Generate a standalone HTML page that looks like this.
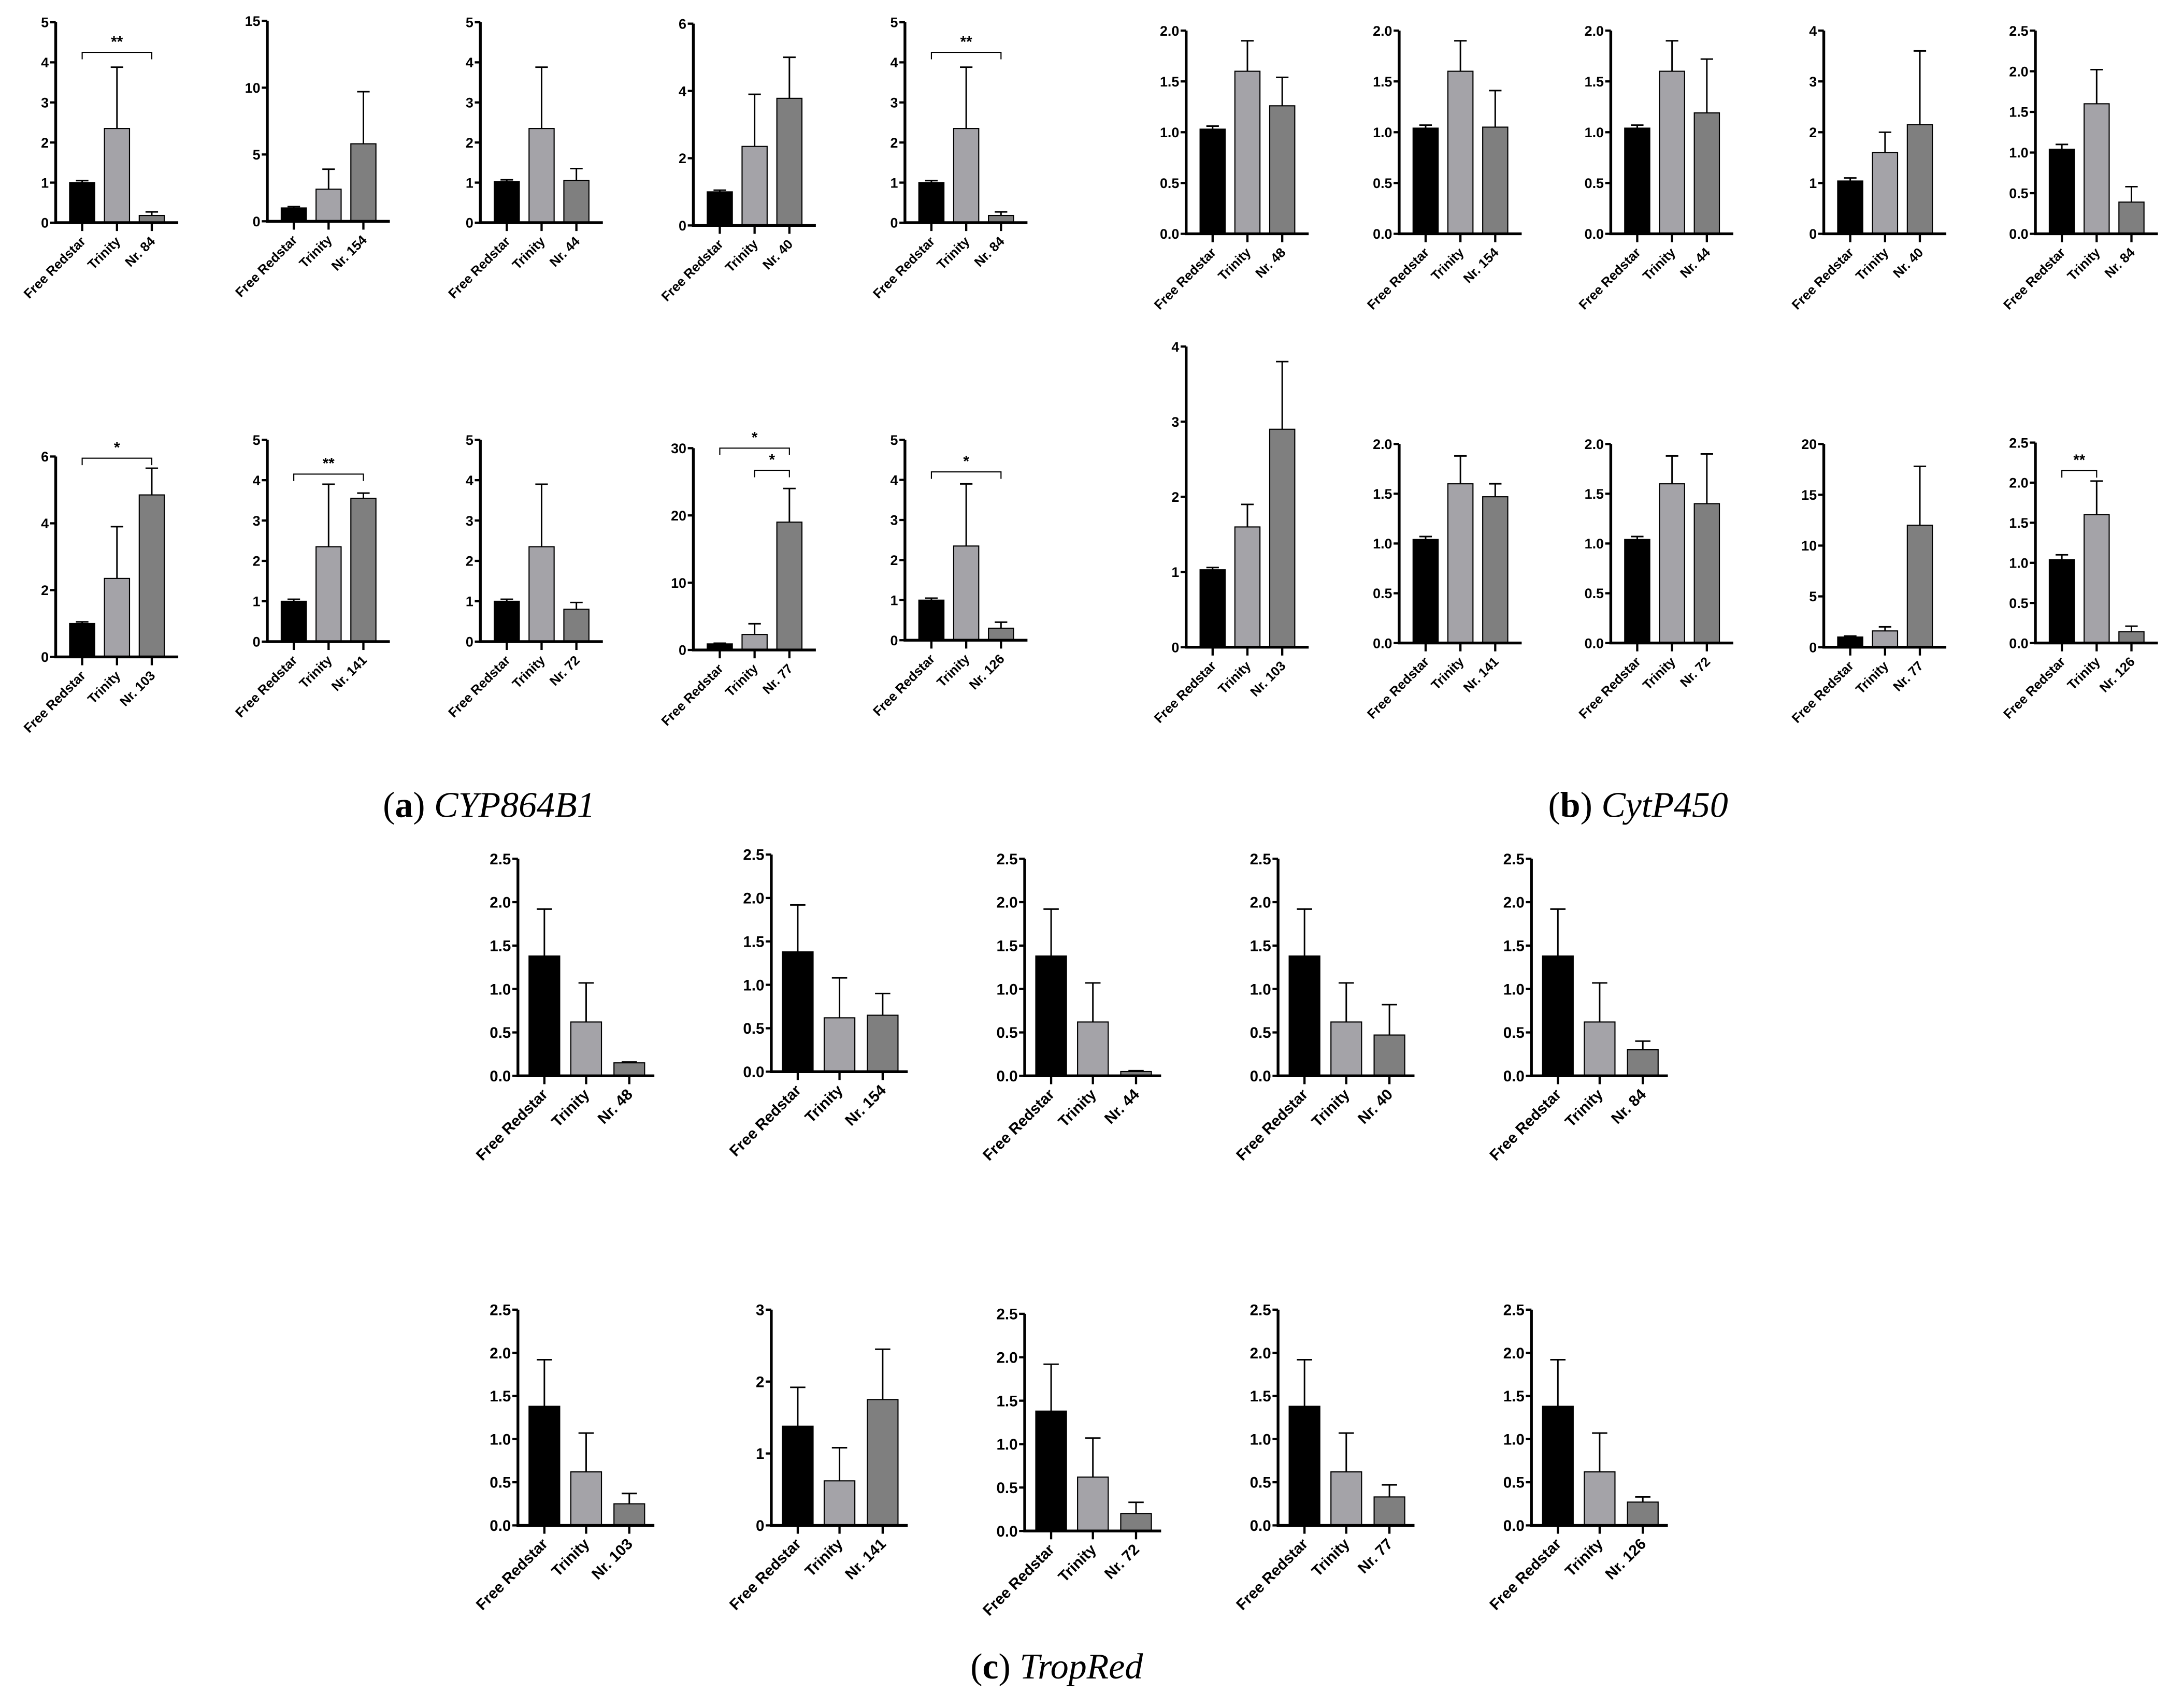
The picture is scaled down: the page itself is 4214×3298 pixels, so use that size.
<!DOCTYPE html>
<html><head><meta charset="utf-8"><style>
html,body{margin:0;padding:0;background:#fff;}
svg{display:block;}
.t{font-family:"Liberation Sans",Arial,sans-serif;font-weight:bold;}
.cap{font-family:"Liberation Serif",serif;font-size:26px;}
</style></head><body>
<svg id="fig" width="4214" height="3298" viewBox="0 0 1568 1227.2" xmlns="http://www.w3.org/2000/svg">
<rect width="1568" height="1227.2" fill="#fff"/>
<text class="cap" x="275" y="587">(<tspan font-weight="bold">a</tspan>) <tspan font-style="italic">CYP864B1</tspan></text>
<text class="cap" x="1112" y="587">(<tspan font-weight="bold">b</tspan>) <tspan font-style="italic">CytP450</tspan></text>
<text class="cap" x="697" y="1206">(<tspan font-weight="bold">c</tspan>) <tspan font-style="italic">TropRed</tspan></text>
</svg>
<script>
// Data arrays
const panelIds = ["a1","a2","a3","a4","a5","a6","a7","a8","a9","a10",
  "b1","b2","b3","b4","b5","b6","b7","b8","b9","b10",
  "c1","c2","c3","c4","c5","c6","c7","c8","c9","c10"];
const thirdLabels = ["Nr. 84","Nr. 154","Nr. 44","Nr. 40","Nr. 84","Nr. 103","Nr. 141","Nr. 72","Nr. 77","Nr. 126",
  "Nr. 48","Nr. 154","Nr. 44","Nr. 40","Nr. 84","Nr. 103","Nr. 141","Nr. 72","Nr. 77","Nr. 126",
  "Nr. 48","Nr. 154","Nr. 44","Nr. 40","Nr. 84","Nr. 103","Nr. 141","Nr. 72","Nr. 77","Nr. 126"];
const means = [
  [1.0,2.35,0.18],[1.0,2.4,5.8],[1.02,2.35,1.05],[1.0,2.35,3.78],[1.0,2.35,0.18],
  [1.0,2.35,4.85],[1.0,2.35,3.55],[1.0,2.35,0.8],[0.9,2.3,19],[1.0,2.35,0.3],
  [1.03,1.6,1.26],[1.04,1.6,1.05],[1.04,1.6,1.19],[1.04,1.6,2.15],[1.04,1.6,0.39],
  [1.03,1.6,2.9],[1.04,1.6,1.47],[1.04,1.6,1.4],[1.0,1.6,12],[1.04,1.6,0.14],
  [1.38,0.62,0.15],[1.38,0.62,0.65],[1.38,0.62,0.05],[1.38,0.62,0.47],[1.38,0.62,0.3],
  [1.38,0.62,0.25],[1.38,0.62,1.75],[1.38,0.62,0.2],[1.38,0.62,0.33],[1.38,0.62,0.27]];
const errTops = [
  [1.05,3.88,0.27],[1.1,3.9,9.7],[1.07,3.88,1.35],[1.05,3.9,5.0],[1.05,3.88,0.27],
  [1.05,3.9,5.65],[1.05,3.9,3.68],[1.05,3.9,0.97],[1.0,3.9,24],[1.05,3.9,0.45],
  [1.06,1.9,1.54],[1.07,1.9,1.41],[1.07,1.9,1.72],[1.1,2.0,3.6],[1.1,2.02,0.58],
  [1.06,1.9,3.8],[1.07,1.88,1.6],[1.07,1.88,1.9],[1.1,2.0,17.8],[1.1,2.02,0.21],
  [1.92,1.07,0.16],[1.92,1.08,0.9],[1.92,1.07,0.06],[1.92,1.07,0.82],[1.92,1.07,0.4],
  [1.92,1.07,0.37],[1.92,1.08,2.45],[1.92,1.07,0.33],[1.92,1.07,0.47],[1.92,1.07,0.33]];
const yMax = [5,15,5,6,5, 6,5,5,30,5, 2,2,2,4,2.5, 4,2,2,20,2.5, 2.5,2.5,2.5,2.5,2.5, 2.5,3,2.5,2.5,2.5];
const yStep = [1,5,1,2,1, 2,1,1,10,1, 0.5,0.5,0.5,1,0.5, 1,0.5,0.5,5,0.5, 0.5,0.5,0.5,0.5,0.5, 0.5,1,0.5,0.5,0.5];
// significance: [panelIndex, fromBar, toBar, value, label]
const sigs = [[0,0,2,4.25,"**"],[4,0,2,4.25,"**"],[5,0,2,5.95,"*"],[6,0,2,4.15,"**"],
  [8,0,2,30,"*"],[8,1,2,26.7,"*"],[9,0,2,4.2,"*"],[19,0,1,2.15,"**"]];
// layout (display units): axisX, topY, zeroY
const layout = [
  [40,16,160],[192,15,159],[345,16,160],[498,17,162],[650,16,160],
  [40,328,472],[192,316,461],[345,316,461],[498,322,467],[650,316,460],
  [852,22,168],[1005,22,168],[1157,22,168],[1310,22,168],[1462,22,168],
  [852,249,465],[1005,319,462],[1157,319,462],[1310,319,465],[1462,318,462],
  [372,617,773],[554,614,770],[736,617,773],[918,617,773],[1100,617,773],
  [372,941,1096],[554,941,1096],[736,944,1100],[918,941,1096],[1100,941,1096]];
const colors = ["#000000","#a4a3a8","#7f7f7f"];
const NS = "http://www.w3.org/2000/svg";
const svg = document.getElementById("fig");
function mk(tag, attrs, parent){const e=document.createElementNS(NS,tag);for(const k in attrs)e.setAttribute(k,attrs[k]);parent.appendChild(e);return e;}
const charts = [];
panelIds.forEach((id,i)=>{
  const big = i>=20;
  const [ax,top,zero] = layout[i];
  const axLen = big?98:88;
  const centers = big?[19,49,80]:[19,44,69];
  const bw = big?22:18;
  const fs = big?11:10;
  const cfs = big?11:9.5;
  const g = mk("g",{},svg);
  
  
  const y = v => zero - (v/yMax[i])*(zero-top);
  const x = k => ax + centers[k];
  charts.push({y,x});
  const cats = ["Free Redstar","Trinity",thirdLabels[i]];
  for(let k=0;k<3;k++){
    const bar = mk("rect",{x:x(k)-bw/2,y:y(means[i][k]),width:bw,height:zero-y(means[i][k]),fill:colors[k],stroke:"#000","stroke-width":0.8},g);
    
    
    const eb = mk("path",{d:`M${x(k)},${y(means[i][k])}V${y(errTops[i][k])}M${x(k)-bw/4},${y(errTops[i][k])}H${x(k)+bw/4}`,stroke:"#000","stroke-width":1.1,fill:"none"},g);
    
    
    mk("line",{x1:x(k),x2:x(k),y1:zero,y2:zero+6,stroke:"#000","stroke-width":1.6},g);
    const lb = mk("text",{class:"t","font-size":cfs,"text-anchor":"end",transform:`translate(${x(k)+3},${zero+14}) rotate(-45)`},g);
    lb.textContent = cats[k];
    
    
  }
  const axes = mk("path",{d:`M${ax},${top}V${zero}H${ax+axLen}`,stroke:"#000","stroke-width":2,fill:"none"},g);
  
  
  const n = Math.round(yMax[i]/yStep[i]);
  for(let t=0;t<=n;t++){
    const v = t*yStep[i];
    mk("line",{x1:ax-4,x2:ax,y1:y(v),y2:y(v),stroke:"#000","stroke-width":1.6},g);
    const tl = mk("text",{class:"t","font-size":fs,"text-anchor":"end",x:ax-5,y:y(v)+fs*0.36},g);
    tl.textContent = (yStep[i]<1)? v.toFixed(1) : String(v);
    
    
  }
});
sigs.forEach(s=>{
  const [pi,a,b,v,lab]=s;
  const c=charts[pi];
  const yy=c.y(v);
  const br = mk("path",{d:`M${c.x(a)},${yy+5}V${yy}H${c.x(b)}V${yy+5}`,stroke:"#000","stroke-width":0.8,fill:"none"},svg);
  
  
  const st = mk("text",{class:"t","font-size":11,"text-anchor":"middle",x:(c.x(a)+c.x(b))/2,y:yy-4},svg);
  st.textContent=lab;
  
  
});
</script>
</body></html>
